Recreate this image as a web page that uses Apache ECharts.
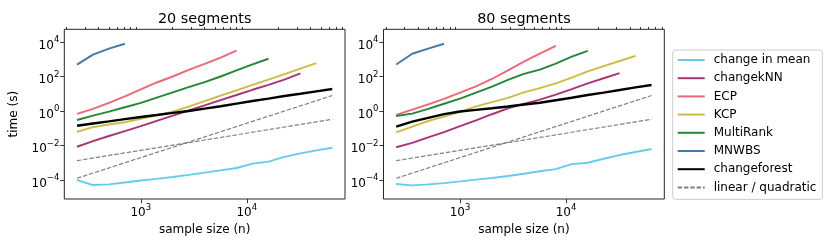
<!DOCTYPE html>
<html><head><meta charset="utf-8">
<script src="https://cdn.jsdelivr.net/npm/echarts@6/dist/echarts.min.js"></script>
<style>html,body{margin:0;padding:0;background:#fff}#c{width:830px;height:249px}</style>
</head><body><div id="c"></div>
<script>
// ---------- data ----------
const sampleSizes = [250,354,500,707,1000,1414,2000,2828,4000,5657,8000,11314,16000,22627,32000,45255,64000];
const panelTitles = ['20 segments','80 segments'];
const methodNames = ['change in mean','changekNN','ECP','KCP','MultiRank','MNWBS','changeforest'];
const refName = 'linear / quadratic';

// 20 segments (time in seconds)
const changeInMean20 = [1.0e-4,5.1e-5,5.6e-5,7.2e-5,9.3e-5,1.17e-4,1.5e-4,2.0e-4,2.7e-4,3.6e-4,5.0e-4,8.9e-4,1.17e-3,2.2e-3,3.5e-3,5.2e-3,7.4e-3];
const changekNN20    = [8.5e-3,0.0178,0.0355,0.068,0.132,0.27,0.54,1.07,2.1,4.3,8.5,17,33,66,151];
const ecp20          = [0.68,1.32,3.0,7.1,17.8,45,100,240,540,1260,3160];
const kcp20          = [0.063,0.117,0.166,0.224,0.355,0.56,0.91,1.78,3.7,7.8,15.8,33,66,138,288,603];
const multiRank20    = [0.30,0.54,0.93,1.66,2.95,5.9,12,24,47,100,224,500,1070];
const mnwbs20        = [490,1860,4170,7940];
const changeforest20 = [0.141,0.19,0.25,0.34,0.45,0.59,0.78,1.0,1.38,1.9,2.7,3.8,5.2,7.4,10,13.8,19];

// 80 segments (time in seconds)
const changeInMean80 = [5.9e-5,4.9e-5,5.6e-5,6.6e-5,8.3e-5,1.05e-4,1.3e-4,1.7e-4,2.3e-4,3.2e-4,4.3e-4,8.3e-4,1.0e-3,1.7e-3,2.8e-3,4.2e-3,6.3e-3];
const changekNN80    = [7.9e-3,0.0141,0.0295,0.060,0.132,0.29,0.65,1.41,2.6,4.6,8.9,18.6,40,79,158];
const ecp80          = [0.59,1.2,2.45,5.0,11.5,27,72,229,724,2140,5890];
const kcp80          = [0.0575,0.126,0.263,0.468,0.89,1.86,3.3,5.75,12,21.4,39.8,85,200,398,794,1585];
const multiRank80    = [0.51,0.71,1.32,2.63,5.25,11.7,26,63,141,251,562,1410,3020];
const mnwbs80        = [500,2090,4170,7940];
const changeforest80 = [0.126,0.24,0.4,0.66,0.93,1.17,1.45,1.82,2.4,3.0,4.2,5.9,8.5,11.7,16.6,23.4,32.4];

// reference lines (linear, quadratic) read at n=250 and n=64000
const refN = [250, 64000];
const refLinear = [1.32e-3, 0.33];
const refQuadratic = [1.26e-4, 7.9];

// ticks
const xMajorTicks = [1000, 10000];
const xMinorTicks = [200,300,400,500,600,700,800,900,2000,3000,4000,5000,6000,7000,8000,9000,20000,30000,40000,50000,60000,70000,80000];
const yMajorTicks = [1e-4, 1e-2, 1, 1e2, 1e4];

// ---------- chart ----------
const FONT = 'DejaVu Sans';
const colors = ['#66CCEE','#AA3377','#EE6677','#CCBB44','#228833','#4477AA','#000000'];
const panels = [
  [changeInMean20, changekNN20, ecp20, kcp20, multiRank20, mnwbs20, changeforest20],
  [changeInMean80, changekNN80, ecp80, kcp80, multiRank80, mnwbs80, changeforest80]
];
const grids = [
  {left:64.3, top:29.3, width:280.7, height:169.7},
  {left:383.5, top:29.3, width:280.8, height:169.7}
];
const xMin = 189.7, xMax = 84400, yMin = 7.94e-6, yMax = 54450;

function supLabel(v){
  const e = Math.round(Math.log10(v));
  return '{b|10}{s|' + String(e).replace('-', '\u2212') + '}';
}
const rich = {
  b:{fontSize:12, fontFamily:FONT, color:'#000', lineHeight:16, verticalAlign:'bottom'},
  s:{fontSize:8.5, fontFamily:FONT, color:'#000', lineHeight:9, verticalAlign:'top'}
};
const tickLine = {color:'#222', width:0.9};

const xAxis = [], yAxis = [], series = [];
grids.forEach((g, i) => {
  xAxis.push({
    type:'log', logBase:10, gridIndex:i, min:xMin, max:xMax,
    axisLine:{show:false}, splitLine:{show:false},
    axisTick:{show:true, customValues:xMajorTicks, length:4.2, lineStyle:tickLine},
    axisLabel:{customValues:xMajorTicks, formatter:supLabel, rich:rich, margin:4},
    name:'sample size (n)', nameLocation:'middle', nameGap:21,
    nameTextStyle:{fontSize:12, fontFamily:FONT, color:'#000'}
  });
  xAxis.push({
    type:'log', logBase:10, gridIndex:i, min:xMin, max:xMax,
    axisLine:{show:false}, splitLine:{show:false}, axisLabel:{show:false},
    axisTick:{show:true, customValues:xMinorTicks, length:2.4, lineStyle:tickLine}
  });
  yAxis.push({
    type:'log', logBase:10, gridIndex:i, min:yMin, max:yMax,
    axisLine:{show:false}, splitLine:{show:false},
    axisTick:{show:true, customValues:yMajorTicks, length:4.2, lineStyle:tickLine},
    axisLabel:{customValues:yMajorTicks, formatter:supLabel, rich:rich, margin:5, padding:[3,0,0,0]},
    name: i === 0 ? 'time (s)' : '', nameLocation:'middle', nameGap:44, nameRotate:90,
    nameTextStyle:{fontSize:12, fontFamily:FONT, color:'#000'}
  });
  panels[i].forEach((vals, k) => {
    series.push({
      type:'line', name:methodNames[k], xAxisIndex:2*i, yAxisIndex:i,
      data: vals.map((v, j) => [sampleSizes[j], v]),
      symbol:'none', showSymbol:false, smooth:false, clip:true,
      lineStyle:{color:colors[k], width: k === 6 ? 2.4 : 1.9},
      itemStyle:{color:colors[k]},
      z: 2 + k
    });
  });
  [refLinear, refQuadratic].forEach(ref => {
    series.push({
      type:'line', name:refName, xAxisIndex:2*i, yAxisIndex:i,
      data: ref.map((v, j) => [refN[j], v]),
      symbol:'none', showSymbol:false, clip:true,
      lineStyle:{color:'#808080', width:1.2, type:[4.4, 1.9]},
      itemStyle:{color:'#808080'},
      z: 10
    });
  });
});

const chart = echarts.init(document.getElementById('c'), null, {renderer:'canvas'});
chart.setOption({
  animation:false,
  backgroundColor:'#fff',
  title: panelTitles.map((t, i) => ({
    text:t, left: grids[i].left + grids[i].width/2, top:12, textAlign:'center', padding:0,
    textStyle:{fontSize:14.4, fontWeight:'normal', color:'#000', fontFamily:FONT}
  })),
  grid: grids.map(g => Object.assign({show:true, borderColor:'#262626', borderWidth:1, backgroundColor:'#fff', containLabel:false}, g)),
  legend: {
    orient:'vertical', left:672.7, top:50, padding:[4,6,6,4],
    itemWidth:27, itemHeight:14, itemGap:6.2, selectedMode:false,
    data: methodNames.concat([refName]),
    itemStyle:{opacity:0},
    textStyle:{fontSize:12, fontFamily:FONT, color:'#000', padding:[0,0,0,4]},
    borderColor:'#cccccc', borderWidth:1, borderRadius:3, backgroundColor:'rgba(255,255,255,0.8)'
  },
  xAxis: xAxis,
  yAxis: yAxis,
  series: series
});
</script>
</body></html>
